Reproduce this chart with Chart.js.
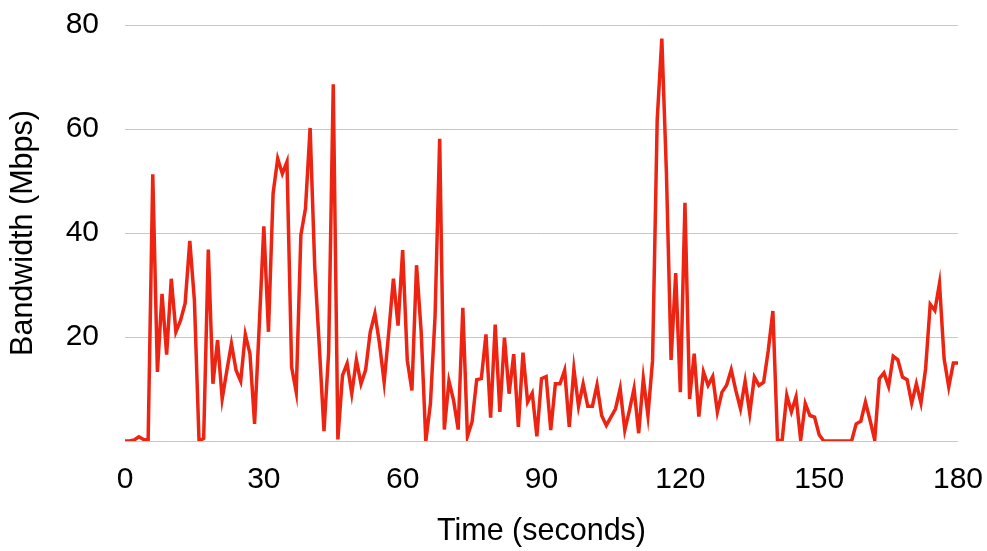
<!DOCTYPE html>
<html>
<head>
<meta charset="utf-8">
<title>Bandwidth over time</title>
<script src="https://cdn.jsdelivr.net/npm/chart.js@4/dist/chart.umd.min.js"></script>
<style>
  html, body { margin: 0; padding: 0; background: #ffffff; }
  #wrap { width: 987px; height: 551px; }
</style>
</head>
<body>
<div id="wrap"><canvas id="chart" width="987" height="551"></canvas></div>
<script>
// Measured throughput, one sample per second (0 s .. 180 s)
const timeSeconds = Array.from({ length: 181 }, (_, i) => i);

const bandwidthMbps = [
  0, 0, 0.2, 0.8, 0.3, 0.1, 51.3, 13.3, 28.3, 16.6,
  31.2, 21.0, 23.2, 26.5, 38.5, 27.0, 0, 0.5, 36.8, 11.0,
  19.4, 8.1, 13.5, 18.7, 13.6, 11.5, 20.5, 16.8, 3.3, 22.0,
  41.3, 21.0, 47.6, 54.3, 51.4, 53.7, 14.2, 9.4, 39.6, 44.7,
  60.2, 33.5, 18.0, 1.9, 17.0, 68.6, 0.3, 12.6, 14.9, 9.1,
  15.6, 11.0, 13.7, 21.0, 24.5, 18.7, 11.3, 21.0, 31.2, 22.2,
  36.7, 15.5, 9.7, 33.8, 21.0, 0, 7.2, 24.0, 58.1, 2.2,
  11.5, 7.8, 2.2, 25.6, 0.9, 3.7, 11.8, 12.0, 20.5, 4.5,
  22.4, 5.6, 19.9, 9.1, 16.7, 2.7, 17.0, 7.5, 9.2, 0.9,
  12.0, 12.4, 2.1, 11.0, 11.0, 13.6, 2.7, 13.9, 6.7, 11.0,
  6.7, 6.7, 10.8, 4.9, 3.0, 4.6, 6.2, 10.1, 2.1, 5.9,
  10.1, 1.5, 12.0, 4.9, 15.5, 61.7, 77.4, 51.4, 15.6, 32.3,
  9.4, 45.8, 8.1, 16.8, 4.7, 13.3, 10.7, 12.4, 5.6, 9.4,
  10.7, 13.7, 9.7, 6.2, 11.5, 5.3, 12.3, 10.7, 11.3, 17.4,
  25.0, 0, 0.2, 8.8, 5.6, 8.5, 0.2, 7.2, 4.9, 4.6,
  1.2, 0, 0, 0, 0, 0, 0, 0, 3.3, 3.8,
  7.5, 4.0, 0.2, 12.0, 13.1, 10.5, 16.3, 15.6, 12.3, 11.8,
  7.3, 11.0, 7.3, 13.9, 26.3, 25.1, 30.3, 15.8, 10.4, 15.0,
  15.0
];

// Axis ticks
const timeTicks = [0, 30, 60, 90, 120, 150, 180];
const bandwidthTicks = [20, 40, 60, 80];

const fontFamily = "'Liberation Sans', Arial, Helvetica, sans-serif";
const tickFont = { family: fontFamily, size: 30 };
const titleFont = { family: fontFamily, size: 30.5 };

new Chart(document.getElementById('chart'), {
  type: 'line',
  data: {
    datasets: [{
      label: 'Bandwidth',
      data: timeSeconds.map((t, i) => ({ x: t, y: bandwidthMbps[i] })),
      borderColor: 'rgb(238, 36, 18)',
      borderWidth: 3.5,
      pointRadius: 0,
      tension: 0,
      fill: false,
      borderJoinStyle: 'miter'
    }]
  },
  options: {
    responsive: false,
    animation: false,
    devicePixelRatio: 1,
    layout: { padding: { top: 25, right: 29, left: 0, bottom: 0 } },
    plugins: { legend: { display: false }, tooltip: { enabled: false } },
    scales: {
      x: {
        type: 'linear',
        min: 0,
        max: 180,
        afterBuildTicks: (scale) => { scale.ticks = timeTicks.map(v => ({ value: v })); },
        afterFit: (scale) => {
          scale.height = 110;
          scale.paddingLeft = 0;
          scale.paddingRight = 0;
        },
        ticks: { color: '#000', font: tickFont, padding: 21, maxRotation: 0 },
        grid: { display: false, drawTicks: false },
        border: { display: false },
        title: {
          display: true,
          text: 'Time (seconds)',
          color: '#000',
          font: titleFont,
          padding: { top: 0, bottom: 1 }
        }
      },
      y: {
        min: 0,
        max: 80,
        afterBuildTicks: (scale) => { scale.ticks = [0].concat(bandwidthTicks).map(v => ({ value: v })); },
        afterFit: (scale) => {
          scale.width = 125;
          scale.paddingTop = 0;
          scale.paddingBottom = 0;
        },
        ticks: {
          color: '#000',
          font: tickFont,
          padding: 26,
          callback: (v) => (bandwidthTicks.includes(v) ? String(v) : '')
        },
        grid: { color: '#c8c8c8', lineWidth: 1, drawTicks: false },
        border: { display: false },
        title: {
          display: true,
          text: 'Bandwidth (Mbps)',
          color: '#000',
          font: titleFont,
          padding: { top: 5, bottom: 0 }
        }
      }
    }
  }
});
</script>
</body>
</html>
